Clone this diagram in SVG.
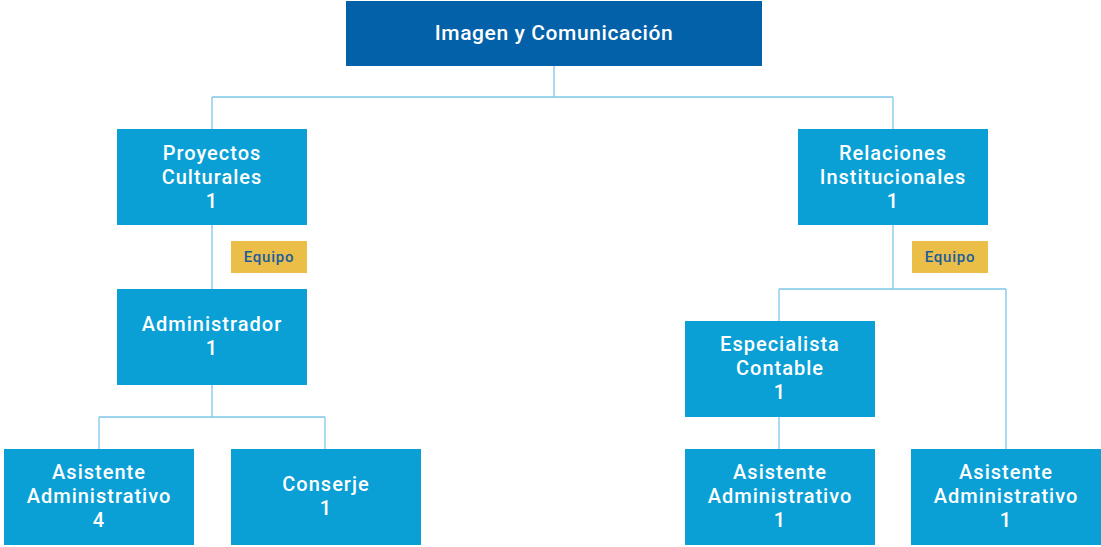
<svg xmlns="http://www.w3.org/2000/svg" width="1101" height="547" viewBox="0 0 1101 547">
<style>
.top{fill:#0361aa}
.box{fill:#0aa0d6}
.badge{fill:#ebbe48}
.t{font-family:Roboto,"Liberation Sans",sans-serif;font-size:20px;font-weight:500;letter-spacing:1px;fill:#fff;text-anchor:middle}
.tt{font-family:Roboto,"Liberation Sans",sans-serif;font-size:21px;font-weight:500;letter-spacing:0.6px;fill:#fff;text-anchor:middle}
.bt{font-family:Roboto,"Liberation Sans",sans-serif;font-size:15px;font-weight:500;letter-spacing:0.8px;fill:#1a5c9e;text-anchor:middle}
.c{fill:none;stroke:#7ec7ea;stroke-width:1.3}
</style>
<rect width="1101" height="547" fill="#fff"/>
<g id="connectors">
<path class="c" d="M554 66V97M212 97H893M212 97V129M893 97V129"/>
<path class="c" d="M212 225V289M212 385V417M99 417H325M99 417V449M325 417V449"/>
<path class="c" d="M893 225V289M779 289H1006M779 289V321M1006 289V449M779 417V449"/>
</g>
<g id="n-top"><rect class="top" x="346" y="1" width="416" height="65"/><text class="tt" x="554" y="40">Imagen y Comunicación</text></g>
<g id="n-proyectos"><rect class="box" x="117" y="129" width="190" height="96"/><text class="t" x="212" y="160">Proyectos</text><text class="t" x="212" y="184">Culturales</text><text class="t" x="212" y="208">1</text></g>
<g id="b-equipo1"><rect class="badge" x="231" y="241" width="76" height="32"/><text class="bt" x="269" y="262">Equipo</text></g>
<g id="n-admin"><rect class="box" x="117" y="289" width="190" height="96"/><text class="t" x="212" y="331">Administrador</text><text class="t" x="212" y="355">1</text></g>
<g id="n-asist4"><rect class="box" x="4" y="449" width="190" height="96"/><text class="t" x="99" y="479">Asistente</text><text class="t" x="99" y="503">Administrativo</text><text class="t" x="99" y="527">4</text></g>
<g id="n-conserje"><rect class="box" x="231" y="449" width="190" height="96"/><text class="t" x="326" y="491">Conserje</text><text class="t" x="326" y="515">1</text></g>
<g id="n-relaciones"><rect class="box" x="798" y="129" width="190" height="96"/><text class="t" x="893" y="160">Relaciones</text><text class="t" x="893" y="184">Institucionales</text><text class="t" x="893" y="208">1</text></g>
<g id="b-equipo2"><rect class="badge" x="912" y="241" width="76" height="32"/><text class="bt" x="950" y="262">Equipo</text></g>
<g id="n-especialista"><rect class="box" x="685" y="321" width="190" height="96"/><text class="t" x="780" y="351">Especialista</text><text class="t" x="780" y="375">Contable</text><text class="t" x="780" y="399">1</text></g>
<g id="n-asist1a"><rect class="box" x="685" y="449" width="190" height="96"/><text class="t" x="780" y="479">Asistente</text><text class="t" x="780" y="503">Administrativo</text><text class="t" x="780" y="527">1</text></g>
<g id="n-asist1b"><rect class="box" x="911" y="449" width="190" height="96"/><text class="t" x="1006" y="479">Asistente</text><text class="t" x="1006" y="503">Administrativo</text><text class="t" x="1006" y="527">1</text></g>
</svg>
